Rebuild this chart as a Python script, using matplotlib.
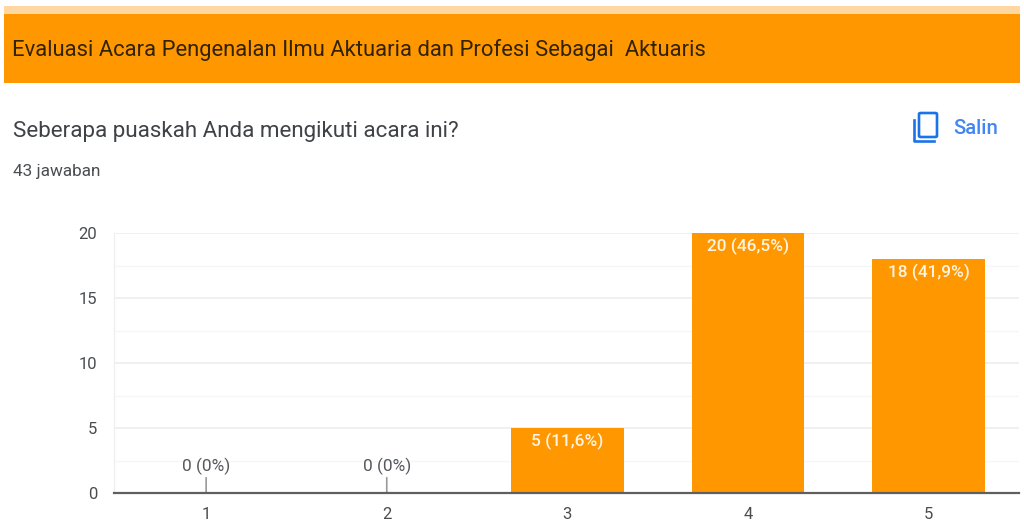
import matplotlib
matplotlib.use("Agg")
import matplotlib.pyplot as plt
from matplotlib.patches import Rectangle, FancyBboxPatch
from matplotlib.lines import Line2D
from matplotlib.ticker import MultipleLocator

categories = [1, 2, 3, 4, 5]
counts = [0, 0, 5, 20, 18]
bar_labels = ["0 (0%)", "0 (0%)", "5 (11,6%)", "20 (46,5%)", "18 (41,9%)"]
yticks = [0, 5, 10, 15, 20]

header_text = "Evaluasi Acara Pengenalan Ilmu Aktuaria dan Profesi Sebagai  Aktuaris"
question_text = "Seberapa puaskah Anda mengikuti acara ini?"
answers_text = "43 jawaban"
copy_text = "Salin"

W, H = 1024, 520
ORANGE = "#FF9800"
plt.rcParams["font.family"] = ["Roboto", "DejaVu Sans"]
fig = plt.figure(figsize=(W / 100, H / 100), dpi=100, facecolor="white")


def fx(px):
    return px / W


def fy(py):
    return 1 - py / H


def frect(x0, y0, x1, y1, **kw):
    fig.add_artist(Rectangle((fx(x0), fy(y1)), (x1 - x0) / W, (y1 - y0) / H,
                             transform=fig.transFigure, linewidth=0, **kw))


# Header
frect(4, 6, 1020, 14, facecolor="#FFD7A3")
frect(4, 14, 1020, 83, facecolor=ORANGE)
fig.text(fx(12), fy(50), header_text, fontsize=15.8, color="#332200", va="center", ha="left")
fig.text(fx(13), fy(132), question_text, fontsize=16.1, color="#3F4246", va="center", ha="left")
fig.text(fx(13), fy(172), answers_text, fontsize=12.3, color="#4A4D50", va="center", ha="left")
fig.text(fx(953), fy(129), copy_text, fontsize=14.6, color="#4285F4", va="center", ha="left", fontweight="medium")

# Copy icon
BLUE = "#1A73E8"
fig.add_artist(FancyBboxPatch((fx(919), fy(137)), 18 / W, 24 / H,
                              boxstyle="round,pad=0,rounding_size=0.002",
                              transform=fig.transFigure, facecolor="none",
                              edgecolor=BLUE, linewidth=1.9))
fig.add_artist(Line2D([fx(914), fx(914), fx(934)], [fy(120), fy(141.5), fy(141.5)],
                      transform=fig.transFigure, color=BLUE, linewidth=1.9))

# Chart
ax = fig.add_axes([fx(114), fy(493), (1019 - 114) / W, (493 - 233) / H])
ax.set_xlim(0.49, 5.5)
ax.set_ylim(0, 20)
ax.set_axisbelow(True)
ax.bar(categories, counts, width=0.625, color=ORANGE, linewidth=0, zorder=2)

ax.set_yticks(yticks)
ax.yaxis.set_minor_locator(MultipleLocator(2.5))
ax.set_xticks(categories)
ax.grid(True, which="major", axis="y", color="#EDEDED", linewidth=1.2)
ax.grid(True, which="minor", axis="y", color="#F6F6F6", linewidth=1.0)
ax.tick_params(axis="both", which="both", length=0)
ax.tick_params(axis="x", labelsize=12, labelcolor="#4A4D50", pad=10)
ax.tick_params(axis="y", labelsize=12, labelcolor="#4A4D50", pad=12)
for side in ("top", "right"):
    ax.spines[side].set_visible(False)
ax.spines["left"].set_color("#F0F0F0")
ax.spines["left"].set_linewidth(1.0)
ax.spines["bottom"].set_color("#5F5F5F")
ax.spines["bottom"].set_linewidth(1.6)
ax.spines["bottom"].set_zorder(3)

for x, v, label in zip(categories, counts, bar_labels):
    if v == 0:
        ax.annotate(label, xy=(x, v), xytext=(0, 13), textcoords="offset points",
                    ha="center", va="bottom", fontsize=12.4, color="#55585C",
                    arrowprops=dict(arrowstyle="-", color="#9A9A9A", linewidth=1.2,
                                    shrinkA=0, shrinkB=0), annotation_clip=False)
    else:
        ax.annotate(label, xy=(x, v), xytext=(0, -3.5), textcoords="offset points",
                    ha="center", va="top", fontsize=12.4, color="#FFF4E3",
                    fontweight="medium", zorder=4)

fig.savefig("out.png", dpi=100)
